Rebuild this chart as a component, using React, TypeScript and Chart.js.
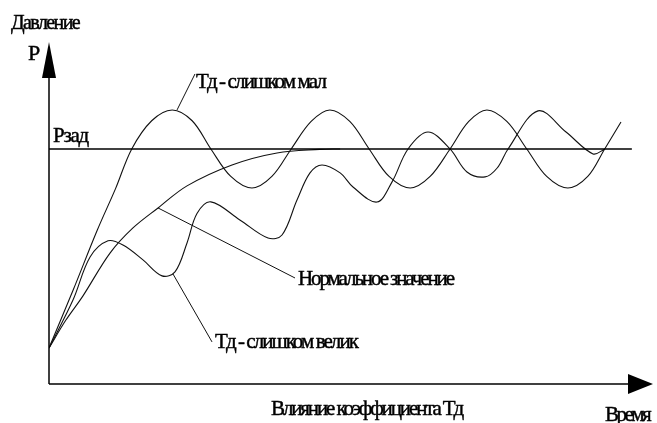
import React, { useEffect, useRef } from "react";
import { Chart, registerables } from "chart.js";

Chart.register(...registerables);

// ---- Data (time units, pressure units; Pзад = 100) ----
const setpointT = [0, 96.5];
const setpointP = [100, 100];

// "Тд - слишком мал"
const smallT = [0, 4, 8, 11, 13.7, 17, 20.4, 23.7, 26.8, 30.1, 33.6, 36.9, 40.1, 43.4, 46.5, 49.8, 53, 56.3, 59.8, 63.1, 66.4, 69.5, 72.5, 75.8, 79.1, 82.4, 85.9, 89.2, 92, 94.7];
const smallP = [15.3, 40, 65.5, 83, 100, 112, 116.6, 112, 100, 88.3, 83.4, 88.3, 100, 111.7, 116.6, 111.7, 100, 88.3, 83.4, 88.3, 100, 111.7, 116.6, 111.7, 100, 88.3, 83.4, 88.3, 100, 111.5];

// "Нормальное значение"
const normalT = [0, 2.8, 5.6, 10.1, 13.9, 18.05, 22.85, 30.3, 37.75, 44.8, 48.2];
const normalP = [15.3, 27.2, 37.4, 55.7, 66.4, 74.9, 84.3, 93.2, 98.3, 99.8, 100];

// "Тд - слишком велик"
const largeT = [0, 3.97, 6.8, 9.77, 12.25, 15.56, 18.71, 20.86, 22.85, 24.5, 26.8, 31.6, 36.26, 38.58, 41.06, 43.21, 45.2, 48.2, 50.33, 54.3, 56.8, 59.44, 62.75, 66.39, 69.2, 72.2, 74.2, 76, 80.96, 85.6, 90.07, 92.05];
const largeP = [15.3, 35.7, 54, 60.9, 59.1, 52.8, 46, 47.7, 60, 72.5, 77.5, 69.8, 62.1, 63.4, 78.3, 89.8, 93.2, 89.8, 83.8, 77.4, 86, 100, 107.2, 100, 90.2, 88.1, 91.9, 100, 116.2, 107.2, 97.9, 100];

// Leader lines (from curve to label)
const leaderSmallT = [21.2, 24.17];
const leaderSmallP = [116.6, 131.9];
const leaderNormalT = [18.05, 40.73];
const leaderNormalP = [74.9, 45.1];
const leaderLargeT = [20.53, 26.99];
const leaderLargeP = [46.8, 17.9];

// Axis ranges
const X_MAX = 100;
const Y_MAX = 145.5;

// Text labels (layout, pixels: left x, baseline y, target width)
const LABELS = [
  { text: "Давление", x: 11, y: 29, w: 68, size: 20 },
  { text: "Р", x: 28, y: 60, w: 0, size: 22 },
  { text: "Рзад", x: 53, y: 142, w: 35, size: 21 },
  { text: "Тд - слишком мал", x: 196, y: 88, w: 129, size: 21 },
  { text: "Нормальное значение", x: 298, y: 285, w: 155, size: 21 },
  { text: "Тд - слишком велик", x: 215, y: 348, w: 142, size: 21 },
  { text: "Влияние коэффициента Тд", x: 271, y: 415, w: 191, size: 21 },
  { text: "Время", x: 605, y: 421, w: 44, size: 21 },
];

const zip = (xs: number[], ys: number[]) => xs.map((x, i) => ({ x, y: ys[i] }));

const FONT_FAMILY = '"Liberation Serif"';

const schematicPlugin = {
  id: "schematic",
  afterDatasetsDraw(chart: any) {
    const { ctx, chartArea, scales } = chart;
    const ox = scales.x.getPixelForValue(0);
    const oy = scales.y.getPixelForValue(0);
    ctx.save();
    ctx.strokeStyle = "#000";
    ctx.fillStyle = "#000";
    ctx.lineWidth = 1.5;
    // vertical axis with arrow
    const vBase = chartArea.top + 36;
    ctx.beginPath();
    ctx.moveTo(ox, oy);
    ctx.lineTo(ox, vBase);
    ctx.stroke();
    ctx.beginPath();
    ctx.moveTo(ox - 7, vBase);
    ctx.lineTo(ox + 7, vBase);
    ctx.lineTo(ox, chartArea.top);
    ctx.closePath();
    ctx.fill();
    // horizontal axis with arrow
    const hBase = chartArea.right - 25;
    ctx.beginPath();
    ctx.moveTo(ox, oy);
    ctx.lineTo(hBase, oy);
    ctx.stroke();
    ctx.beginPath();
    ctx.moveTo(hBase, oy - 10);
    ctx.lineTo(hBase, oy + 10);
    ctx.lineTo(chartArea.right, oy);
    ctx.closePath();
    ctx.fill();

    // labels
    ctx.textBaseline = "alphabetic";
    ctx.textAlign = "left";
    ctx.lineWidth = 0.45;
    ctx.lineJoin = "round";
    for (const l of LABELS) {
      ctx.font = `${l.size}px ${FONT_FAMILY}, serif`;
      const c: any = ctx;
      if ("letterSpacing" in c) c.letterSpacing = "0px";
      const natural = ctx.measureText(l.text).width;
      if (l.w > 0 && "letterSpacing" in c) {
        const n = Array.from(l.text).length;
        const ls = (l.w - natural) / n;
        c.letterSpacing = `${ls.toFixed(2)}px`;
        ctx.fillText(l.text, l.x, l.y);
        ctx.strokeText(l.text, l.x, l.y);
        c.letterSpacing = "0px";
      } else if (l.w > 0) {
        ctx.save();
        ctx.translate(l.x, l.y);
        ctx.scale(l.w / natural, 1);
        ctx.fillText(l.text, 0, 0);
        ctx.restore();
      } else {
        ctx.fillText(l.text, l.x, l.y);
        ctx.strokeText(l.text, l.x, l.y);
      }
    }
    ctx.restore();
  },
};

export default function App() {
  const ref = useRef<HTMLCanvasElement | null>(null);
  useEffect(() => {
    document.body.style.margin = "0";
    const canvas = ref.current;
    if (!canvas) return;
    const curve = { borderColor: "#111", borderWidth: 1.1, pointRadius: 0, fill: false, tension: 0.35 };
    const straight = { borderColor: "#111", borderWidth: 1, pointRadius: 0, fill: false, tension: 0 };
    const chart = new Chart(canvas, {
      type: "line",
      data: {
        datasets: [
          { label: "Рзад", data: zip(setpointT, setpointP), borderColor: "#000", borderWidth: 1.5, pointRadius: 0, tension: 0 },
          { label: "Тд - слишком мал", data: zip(smallT, smallP), ...curve },
          { label: "Нормальное значение", data: zip(normalT, normalP), ...curve },
          { label: "Тд - слишком велик", data: zip(largeT, largeP), ...curve },
          { label: "l1", data: zip(leaderSmallT, leaderSmallP), ...straight },
          { label: "l2", data: zip(leaderNormalT, leaderNormalP), ...straight },
          { label: "l3", data: zip(leaderLargeT, leaderLargeP), ...straight },
        ] as any,
      },
      options: {
        animation: false,
        responsive: false,
        devicePixelRatio: 1,
        layout: { padding: { left: 49, right: 4, top: 42, bottom: 39 } },
        plugins: { legend: { display: false }, tooltip: { enabled: false } },
        scales: {
          x: { type: "linear", min: 0, max: X_MAX, display: false },
          y: { type: "linear", min: 0, max: Y_MAX, display: false },
        },
        events: [],
      },
      plugins: [schematicPlugin],
    });
    return () => chart.destroy();
  }, []);
  return (
    <div style={{ position: "fixed", left: 0, top: 0, width: 657, height: 423, background: "#fff" }}>
      <canvas ref={ref} width={657} height={423} style={{ width: 657, height: 423, display: "block" }} />
    </div>
  );
}
